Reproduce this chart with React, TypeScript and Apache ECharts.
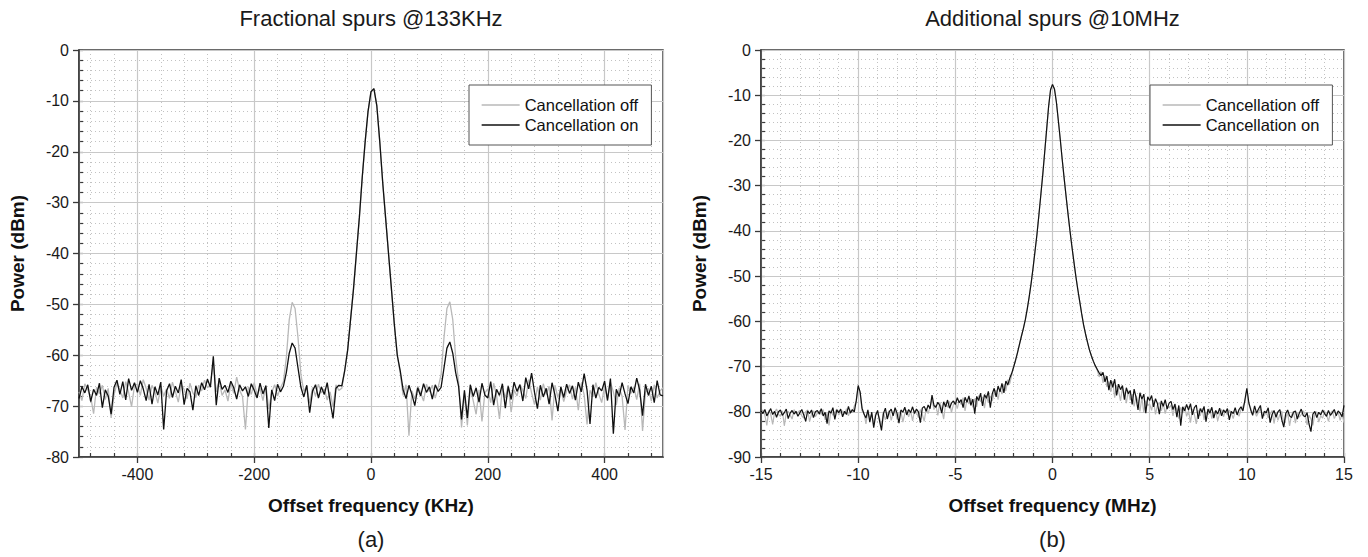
import React, { useEffect, useRef } from "react";
import * as echarts from "echarts";

const FONT = "'Liberation Sans', Arial, Helvetica, sans-serif";

// ---------- Panel (a): offset frequency in KHz, 5 KHz bins from -500 ----------
const khzStart = -500;
const khzStep = 5;
const kHzOff = [
  -67.2, -68.9, -65.6, -66.8, -68.2, -71.5, -66.3, -67.6, -65.9, -68.7,
  -66.5, -72.3, -67.8, -65.5, -66.9, -68.4, -65.2, -67.3, -70.1, -66.0,
  -65.7, -67.9, -64.8, -66.5, -68.8, -65.9, -67.2, -69.4, -66.1, -68.0,
  -66.6, -68.5, -65.3, -67.1, -69.2, -65.8, -66.7, -68.6, -65.5, -67.4,
  -68.3, -65.9, -67.0, -64.9, -66.4, -65.7, -61.5, -67.2, -65.0, -67.9,
  -66.8, -69.0, -65.6, -67.5, -64.3, -66.9, -68.1, -74.6, -66.2, -67.7,
  -65.4, -67.8, -66.5, -68.9, -65.9, -70.6, -67.3, -65.8, -68.0, -66.4,
  -65.2, -60.5, -53.0, -49.6, -50.8, -56.5, -63.8, -67.1, -66.0, -69.4,
  -66.3, -68.0, -65.7, -67.4, -66.6, -68.8, -67.2, -70.2, -65.8, -66.9,
  -66.5, -63.0, -59.0, -53.0, -47.0, -40.0, -33.0, -25.0, -18.0, -12.0,
  -8.2, -7.6, -11.0, -18.0, -26.0, -33.0, -40.0, -47.0, -54.0, -60.0,
  -63.5, -67.9, -65.8, -75.8, -67.0, -68.6, -66.1, -67.4, -69.0, -65.7,
  -67.2, -65.9, -68.4, -66.3, -63.8, -56.5, -50.8, -49.5, -53.0, -60.5,
  -65.2, -74.2, -67.5, -73.8, -66.4, -68.9, -71.6, -66.8, -73.0, -67.4,
  -66.6, -69.3, -65.5, -67.9, -72.5, -66.3, -68.4, -65.9, -71.2, -66.8,
  -68.0, -65.7, -66.9, -68.5, -64.8, -67.4, -69.7, -66.2, -68.8, -65.6,
  -67.7, -66.1, -72.8, -65.9, -68.3, -66.6, -69.1, -67.0, -65.8, -68.6,
  -66.3, -70.8, -65.5, -67.8, -73.6, -66.9, -68.2, -65.4, -67.6, -69.3,
  -66.0, -68.5, -65.3, -67.2, -69.8, -66.4, -68.1, -74.7, -65.9, -67.5,
  -66.2, -68.7, -65.6, -74.9, -67.3, -66.5, -69.0, -65.8, -68.4, -67.0,
  -66.4,
];
const kHzOn = [
  -68.5, -66.2, -67.4, -65.8, -69.1, -66.7, -67.9, -65.5, -70.3, -66.8,
  -68.0, -71.6, -66.3, -64.9, -67.7, -65.2, -68.8, -64.6, -66.9, -65.4,
  -67.3, -65.0, -66.6, -68.9, -65.7, -69.6, -66.2, -67.8, -65.3, -74.6,
  -67.0, -65.6, -68.3, -66.1, -67.4, -64.8, -69.7, -66.5, -67.2, -70.8,
  -66.0, -67.9, -65.4, -66.8, -64.7, -66.3, -60.2, -69.8, -64.5, -66.7,
  -65.9, -67.3, -65.1, -66.4, -68.6, -65.8, -67.0, -66.2, -68.1, -65.6,
  -66.9, -68.4, -65.5, -67.6, -66.0, -74.3, -66.8, -68.9, -65.7, -67.2,
  -66.1, -63.4, -59.6, -57.6, -58.6, -62.5, -66.3, -68.2, -65.9, -71.3,
  -67.0, -65.8, -68.4, -66.2, -67.7, -65.4, -69.1, -72.4, -66.5, -65.9,
  -66.0, -63.0, -59.0, -53.0, -47.0, -40.0, -33.0, -25.0, -18.0, -12.0,
  -8.2, -7.6, -11.0, -18.0, -26.0, -33.0, -40.0, -47.0, -54.0, -60.0,
  -63.0, -66.8, -68.5, -65.9, -67.7, -69.9, -66.4, -68.0, -65.6, -67.3,
  -66.2, -68.6, -65.8, -67.1, -66.3, -62.5, -58.6, -57.4, -59.6, -63.4,
  -66.1, -72.6, -66.9, -72.3, -65.8, -68.1, -66.4, -69.2, -65.5, -67.8,
  -68.4, -65.2, -69.8, -66.7, -67.9, -65.6, -70.4, -66.1, -68.7, -65.3,
  -67.1, -65.8, -69.0, -64.4, -66.6, -63.5, -67.3, -70.5, -65.9, -68.2,
  -66.5, -69.6, -65.4, -67.8, -71.0, -66.2, -68.3, -65.7, -67.5, -66.0,
  -68.8, -65.3, -67.2, -63.6, -66.9, -73.5, -65.8, -68.4, -66.3, -67.0,
  -65.1, -68.9, -64.6, -75.4, -66.7, -68.1, -65.4, -67.6, -69.5, -66.2,
  -67.4, -64.5, -66.8, -71.9, -65.7, -67.9, -66.1, -69.3, -65.0, -67.8,
  -68.0,
];

// ---------- Panel (b): offset frequency in MHz, 0.1 MHz bins from -15 ----------
const mhzStart = -15;
const mhzStep = 0.1;
const mHzOff = [
  -80.2, -79.6, -80.8, -83.0, -79.7, -80.5, -82.8, -80.1, -79.4, -80.6,
  -81.0, -79.8, -83.1, -80.3, -79.9, -80.7, -81.6, -79.5, -80.4, -80.1,
  -79.7, -80.9, -81.4, -80.0, -79.6, -82.2, -80.5, -79.8, -81.1, -80.3,
  -79.9, -80.6, -79.5, -81.8, -80.2, -83.0, -79.7, -80.8, -80.1, -79.4,
  -80.7, -80.1, -79.8, -80.5, -79.3, -80.9, -79.6, -80.2, -78.7, -77.8,
  -74.5, -75.9, -79.8, -80.2, -82.7, -79.9, -81.5, -80.6, -82.9, -80.3,
  -80.5, -81.4, -83.2, -80.0, -81.8, -80.6, -79.7, -81.9, -80.3, -79.6,
  -81.7, -80.2, -79.9, -82.3, -80.4, -79.6, -81.1, -79.8, -82.0, -79.7,
  -80.1, -81.3, -79.5, -80.6, -82.1, -79.2, -80.4, -78.9, -77.2, -79.5,
  -78.5, -80.8, -77.9, -79.4, -81.6, -78.2, -79.0, -77.7, -80.2, -78.4,
  -77.6, -79.3, -77.5, -78.4, -76.9, -79.8, -77.2, -78.3, -77.0, -79.0,
  -77.1, -78.9, -76.4, -77.8, -76.7, -79.2, -76.3, -78.0, -76.5, -77.6,
  -75.9, -75.2, -77.3, -74.8, -76.1, -73.9, -75.4, -72.9, -73.8, -71.9,
  -70.1, -68.6, -66.9, -65.1, -63.3, -61.6, -59.7, -57.3, -54.6, -51.6,
  -48.2, -44.5, -40.8, -36.5, -32.0, -27.5, -22.5, -17.5, -12.5, -8.8,
  -7.6, -8.6, -11.5, -15.6, -19.8, -24.2, -28.4, -32.4, -36.3, -40.0,
  -43.5, -46.8, -50.0, -52.9, -55.6, -58.3, -60.8, -62.8, -64.6, -66.3,
  -67.6, -68.8, -69.8, -70.8, -72.3, -71.1, -73.6, -72.0, -74.5, -73.3,
  -75.6, -73.2, -76.9, -74.1, -75.4, -77.6, -74.6, -75.9, -78.1, -75.3,
  -77.4, -76.1, -78.8, -76.5, -77.6, -79.9, -76.8, -80.2, -77.5, -78.6,
  -78.3, -79.7, -77.4, -80.6, -78.5, -77.9, -79.8, -78.1, -80.4, -78.7,
  -79.2, -78.5, -80.9, -78.2, -79.6, -81.5, -79.0, -80.3, -78.8, -81.0,
  -79.8, -82.4, -79.4, -80.6, -82.7, -79.7, -80.9, -79.2, -81.8, -80.0,
  -80.6, -79.3, -81.5, -80.2, -79.8, -82.0, -80.4, -79.5, -81.1, -79.8,
  -80.7, -79.6, -80.3, -81.5, -79.8, -80.2, -81.0, -79.4, -78.8, -77.9,
  -75.1, -78.3, -79.2, -80.4, -79.9, -81.0, -80.1, -79.3, -80.6, -80.9,
  -79.8, -81.4, -80.5, -79.7, -82.6, -80.1, -81.9, -80.6, -79.9, -82.8,
  -81.4, -80.2, -83.1, -80.7, -79.9, -82.5, -80.3, -81.2, -80.6, -79.8,
  -80.5, -82.9, -80.8, -81.6, -83.0, -80.4, -80.0, -82.3, -80.9, -81.4,
  -79.9, -80.6, -82.1, -80.3, -79.8, -81.5, -80.7, -80.0, -81.9, -80.5,
  -82.4,
];
const mHzOn = [
  -79.8, -80.4, -79.5, -80.9, -80.1, -79.3, -80.6, -79.9, -81.2, -80.0,
  -79.6, -80.8, -80.2, -79.4, -81.5, -80.3, -79.7, -80.5, -79.9, -81.0,
  -80.2, -79.5, -80.7, -82.1, -79.8, -80.4, -79.6, -81.3, -80.0, -79.7,
  -80.5, -79.3, -80.9, -80.1, -82.6, -79.8, -80.3, -79.1, -81.7, -79.6,
  -80.2, -79.4, -81.1, -79.9, -80.6, -78.8, -80.3, -79.5, -80.0, -77.6,
  -74.2, -75.6, -79.2, -80.5, -81.4, -79.6, -82.3, -80.1, -83.5, -80.8,
  -79.7, -82.0, -84.1, -80.4, -79.2, -81.6, -80.0, -79.4, -80.9, -79.1,
  -80.3, -82.5, -79.6, -80.1, -79.0, -80.7, -79.5, -80.2, -78.9, -80.4,
  -79.4, -80.0, -82.4, -79.2, -78.8, -79.9, -78.5, -79.3, -76.3, -78.6,
  -79.0, -77.9, -78.6, -80.3, -77.8, -78.9, -77.4, -79.2, -78.1, -77.6,
  -78.4, -76.9, -78.0, -77.3, -79.1, -76.8, -77.9, -76.5, -78.6, -77.2,
  -80.4, -76.6, -77.5, -75.9, -78.7, -76.2, -77.0, -75.5, -79.1, -76.0,
  -74.8, -76.7, -74.3, -75.6, -73.7, -75.8, -73.2, -74.1, -72.6, -71.5,
  -70.1, -68.6, -66.9, -65.1, -63.3, -61.6, -59.7, -57.3, -54.6, -51.6,
  -48.2, -44.5, -40.8, -36.5, -32.0, -27.5, -22.5, -17.5, -12.5, -8.8,
  -7.6, -8.6, -11.5, -15.6, -19.8, -24.2, -28.4, -32.4, -36.3, -40.0,
  -43.5, -46.8, -50.0, -52.9, -55.6, -58.3, -60.8, -62.8, -64.6, -66.3,
  -67.6, -68.8, -69.8, -70.6, -71.4, -72.0, -71.3, -73.4, -72.1, -75.2,
  -73.0, -74.6, -72.8, -76.4, -73.9, -75.1, -74.2, -77.3, -74.7, -76.0,
  -75.3, -78.4, -75.0, -76.8, -79.6, -75.8, -77.2, -76.1, -80.3, -76.7,
  -77.5, -76.4, -78.9, -77.1, -78.2, -80.5, -77.6, -78.8, -77.3, -79.4,
  -78.1, -77.7, -79.5, -78.3, -81.2, -78.6, -83.1, -78.9, -79.8, -78.4,
  -79.6, -78.2, -80.7, -79.1, -78.5, -81.6, -79.3, -80.1, -78.8, -82.2,
  -79.4, -80.3, -79.0, -81.4, -79.7, -80.5, -79.2, -80.9, -79.6, -80.2,
  -79.3, -81.8, -79.9, -80.4, -79.1, -80.7, -79.5, -78.9, -79.8, -77.4,
  -74.8, -77.9, -79.6, -80.8, -78.7, -80.3, -79.4, -78.6, -81.5, -79.9,
  -80.2, -79.1, -82.4, -80.6, -79.7, -81.2, -80.0, -79.5, -81.8, -83.4,
  -80.4, -79.6, -80.9, -81.3, -80.1, -79.8, -81.6, -80.3, -79.4, -80.8,
  -81.1, -80.2, -82.7, -84.4, -80.5, -79.9, -81.3, -80.1, -80.7, -79.6,
  -80.4, -81.0, -79.7, -80.8, -80.2, -79.5, -80.9, -79.8, -80.3, -81.1,
  -78.6,
];

const titles = ["Fractional spurs @133KHz", "Additional spurs @10MHz"];
const panelLabels = ["(a)", "(b)"];
const xNames = ["Offset frequency (KHz)", "Offset frequency (MHz)"];
const yName = "Power (dBm)";
const seriesNames = ["Cancellation off", "Cancellation on"];
const xRangeA = [-500, 500];
const yRangeA = [-80, 0];
const xRangeB = [-15, 15];
const yRangeB = [-90, 0];

const OFF_COLOR = "#b8b8b8";
const ON_COLOR = "#111111";
const AXIS_COLOR = "#3a3a3a";

function toPairs(start: number, step: number, vals: number[]) {
  return vals.map((v, i) => [Number((start + i * step).toFixed(4)), v]);
}

// layout
const GA = { left: 79, top: 50, width: 584, height: 407 };
const GB = { left: 761, top: 50, width: 583, height: 407 };
const pxPerKHz = GA.width / (xRangeA[1] - xRangeA[0]);

export default function App() {
  const ref = useRef<HTMLDivElement>(null);

  useEffect(() => {
    if (!ref.current) return;
    const chart = echarts.init(ref.current, null, { renderer: "svg" });

    const labelStyle = { color: "#1a1a1a", fontSize: 16, fontFamily: FONT };
    const nameStyle = { color: "#111", fontSize: 19, fontWeight: "bold", fontFamily: FONT };
    const majorSplit = { show: true, lineStyle: { color: "#c8c8c8", width: 1.2, type: "solid" } };
    const minorSplit = { show: true, lineStyle: { color: "#c2c2c2", width: 1, type: [1, 3] } };
    const axisLine = { show: true, onZero: false, lineStyle: { color: AXIS_COLOR, width: 1.6 } };
    const hiddenLine = { show: false, onZero: false };
    const outTick = { show: true, inside: false, length: 6, lineStyle: { color: AXIS_COLOR, width: 1.3 } };
    const inTick = { show: true, inside: true, length: 4, lineStyle: { color: AXIS_COLOR, width: 1.2 } };

    const gridCommon = { show: true, borderColor: AXIS_COLOR, borderWidth: 1.5, backgroundColor: "#fff", containLabel: false, outerBoundsMode: "none" };

    const option: any = {
      animation: false,
      backgroundColor: "#fff",
      textStyle: { fontFamily: FONT },
      grid: [
        { ...GA, ...gridCommon },
        {
          left: GA.left + 20 * pxPerKHz,
          top: GA.top,
          width: 960 * pxPerKHz,
          height: GA.height,
          show: false,
          containLabel: false,
          outerBoundsMode: "none",
        },
        { ...GB, ...gridCommon },
      ],
      xAxis: [
        {
          gridIndex: 0, type: "value", min: xRangeA[0], max: xRangeA[1], splitNumber: 5,
          position: "bottom", z: 1,
          axisLine, axisTick: outTick,
          axisLabel: { ...labelStyle, margin: 9, showMinLabel: false, showMaxLabel: false },
          splitLine: majorSplit,
          name: xNames[0], nameLocation: "middle", nameGap: 39, nameTextStyle: nameStyle,
        },
        {
          gridIndex: 1, type: "value", min: -480, max: 480, interval: 40, position: "bottom", z: 0,
          axisLine: hiddenLine, axisTick: inTick, axisLabel: { show: false }, splitLine: minorSplit,
        },
        {
          gridIndex: 2, type: "value", min: xRangeB[0], max: xRangeB[1], interval: 5,
          position: "bottom", z: 1,
          axisLine, axisTick: outTick,
          axisLabel: { ...labelStyle, margin: 9 },
          splitLine: majorSplit,
          name: xNames[1], nameLocation: "middle", nameGap: 39, nameTextStyle: nameStyle,
        },
        {
          gridIndex: 2, type: "value", min: xRangeB[0], max: xRangeB[1], interval: 1, position: "bottom", z: 0,
          axisLine: hiddenLine, axisTick: inTick, axisLabel: { show: false }, splitLine: minorSplit,
        },
      ],
      yAxis: [
        {
          gridIndex: 0, type: "value", min: yRangeA[0], max: yRangeA[1], interval: 10,
          position: "left", z: 1,
          axisLine, axisTick: outTick,
          axisLabel: { ...labelStyle, margin: 10 },
          splitLine: majorSplit,
          name: yName, nameLocation: "middle", nameGap: 52, nameRotate: 90, nameTextStyle: nameStyle,
        },
        {
          gridIndex: 0, type: "value", min: yRangeA[0], max: yRangeA[1], interval: 2, position: "left", z: 0,
          axisLine: hiddenLine, axisTick: inTick, axisLabel: { show: false }, splitLine: minorSplit,
        },
        { gridIndex: 1, type: "value", min: 0, max: 1, show: false },
        {
          gridIndex: 2, type: "value", min: yRangeB[0], max: yRangeB[1], interval: 10,
          position: "left", z: 1,
          axisLine, axisTick: outTick,
          axisLabel: { ...labelStyle, margin: 10 },
          splitLine: majorSplit,
          name: yName, nameLocation: "middle", nameGap: 52, nameRotate: 90, nameTextStyle: nameStyle,
        },
        {
          gridIndex: 2, type: "value", min: yRangeB[0], max: yRangeB[1], interval: 2, position: "left", z: 0,
          axisLine: hiddenLine, axisTick: inTick, axisLabel: { show: false }, splitLine: minorSplit,
        },
      ],
      legend: [GA, GB].map((g) => ({
        data: seriesNames,
        orient: "vertical",
        left: g.left + g.width - 194,
        top: 85,
        padding: [11, 13, 11, 12],
        itemWidth: 38,
        itemHeight: 14,
        itemGap: 2,
        backgroundColor: "#fff",
        borderColor: "#555",
        borderWidth: 1,
        borderRadius: 0,
        selectedMode: false,
        itemStyle: { opacity: 0 },
        lineStyle: { width: 1.3, opacity: 1 },
        textStyle: { fontSize: 16.5, lineHeight: 18, color: "#111", fontFamily: FONT },
      })),
      series: [
        {
          name: seriesNames[0], type: "line", xAxisIndex: 0, yAxisIndex: 0,
          data: toPairs(khzStart, khzStep, kHzOff), symbol: "none", silent: true,
          lineStyle: { color: OFF_COLOR, width: 1.3 }, itemStyle: { color: OFF_COLOR },
        },
        {
          name: seriesNames[1], type: "line", xAxisIndex: 0, yAxisIndex: 0,
          data: toPairs(khzStart, khzStep, kHzOn), symbol: "none", silent: true,
          lineStyle: { color: ON_COLOR, width: 1.3 }, itemStyle: { color: ON_COLOR },
        },
        {
          name: seriesNames[0], type: "line", xAxisIndex: 2, yAxisIndex: 3,
          data: toPairs(mhzStart, mhzStep, mHzOff), symbol: "none", silent: true,
          lineStyle: { color: OFF_COLOR, width: 1.2 }, itemStyle: { color: OFF_COLOR },
        },
        {
          name: seriesNames[1], type: "line", xAxisIndex: 2, yAxisIndex: 3,
          data: toPairs(mhzStart, mhzStep, mHzOn), symbol: "none", silent: true,
          lineStyle: { color: ON_COLOR, width: 1.2 }, itemStyle: { color: ON_COLOR },
        },
      ],
      graphic: [
        ...[GA, GB].map((g, i) => ({
          type: "text", x: g.left + g.width / 2, y: 18, silent: true,
          style: {
            text: titles[i], fill: "#1a1a1a", fontSize: 22, fontFamily: FONT,
            align: "center", verticalAlign: "middle", textAlign: "center", textVerticalAlign: "middle",
          },
        })),
        ...[GA, GB].map((g, i) => ({
          type: "text", x: g.left + g.width / 2, y: 539, silent: true,
          style: {
            text: panelLabels[i], fill: "#1a1a1a", fontSize: 22, fontFamily: FONT,
            align: "center", verticalAlign: "middle", textAlign: "center", textVerticalAlign: "middle",
          },
        })),
      ],
    };

    chart.setOption(option);
    return () => chart.dispose();
  }, []);

  return (
    <div
      ref={ref}
      style={{ position: "fixed", left: 0, top: 0, width: 1368, height: 557, background: "#fff" }}
    />
  );
}
